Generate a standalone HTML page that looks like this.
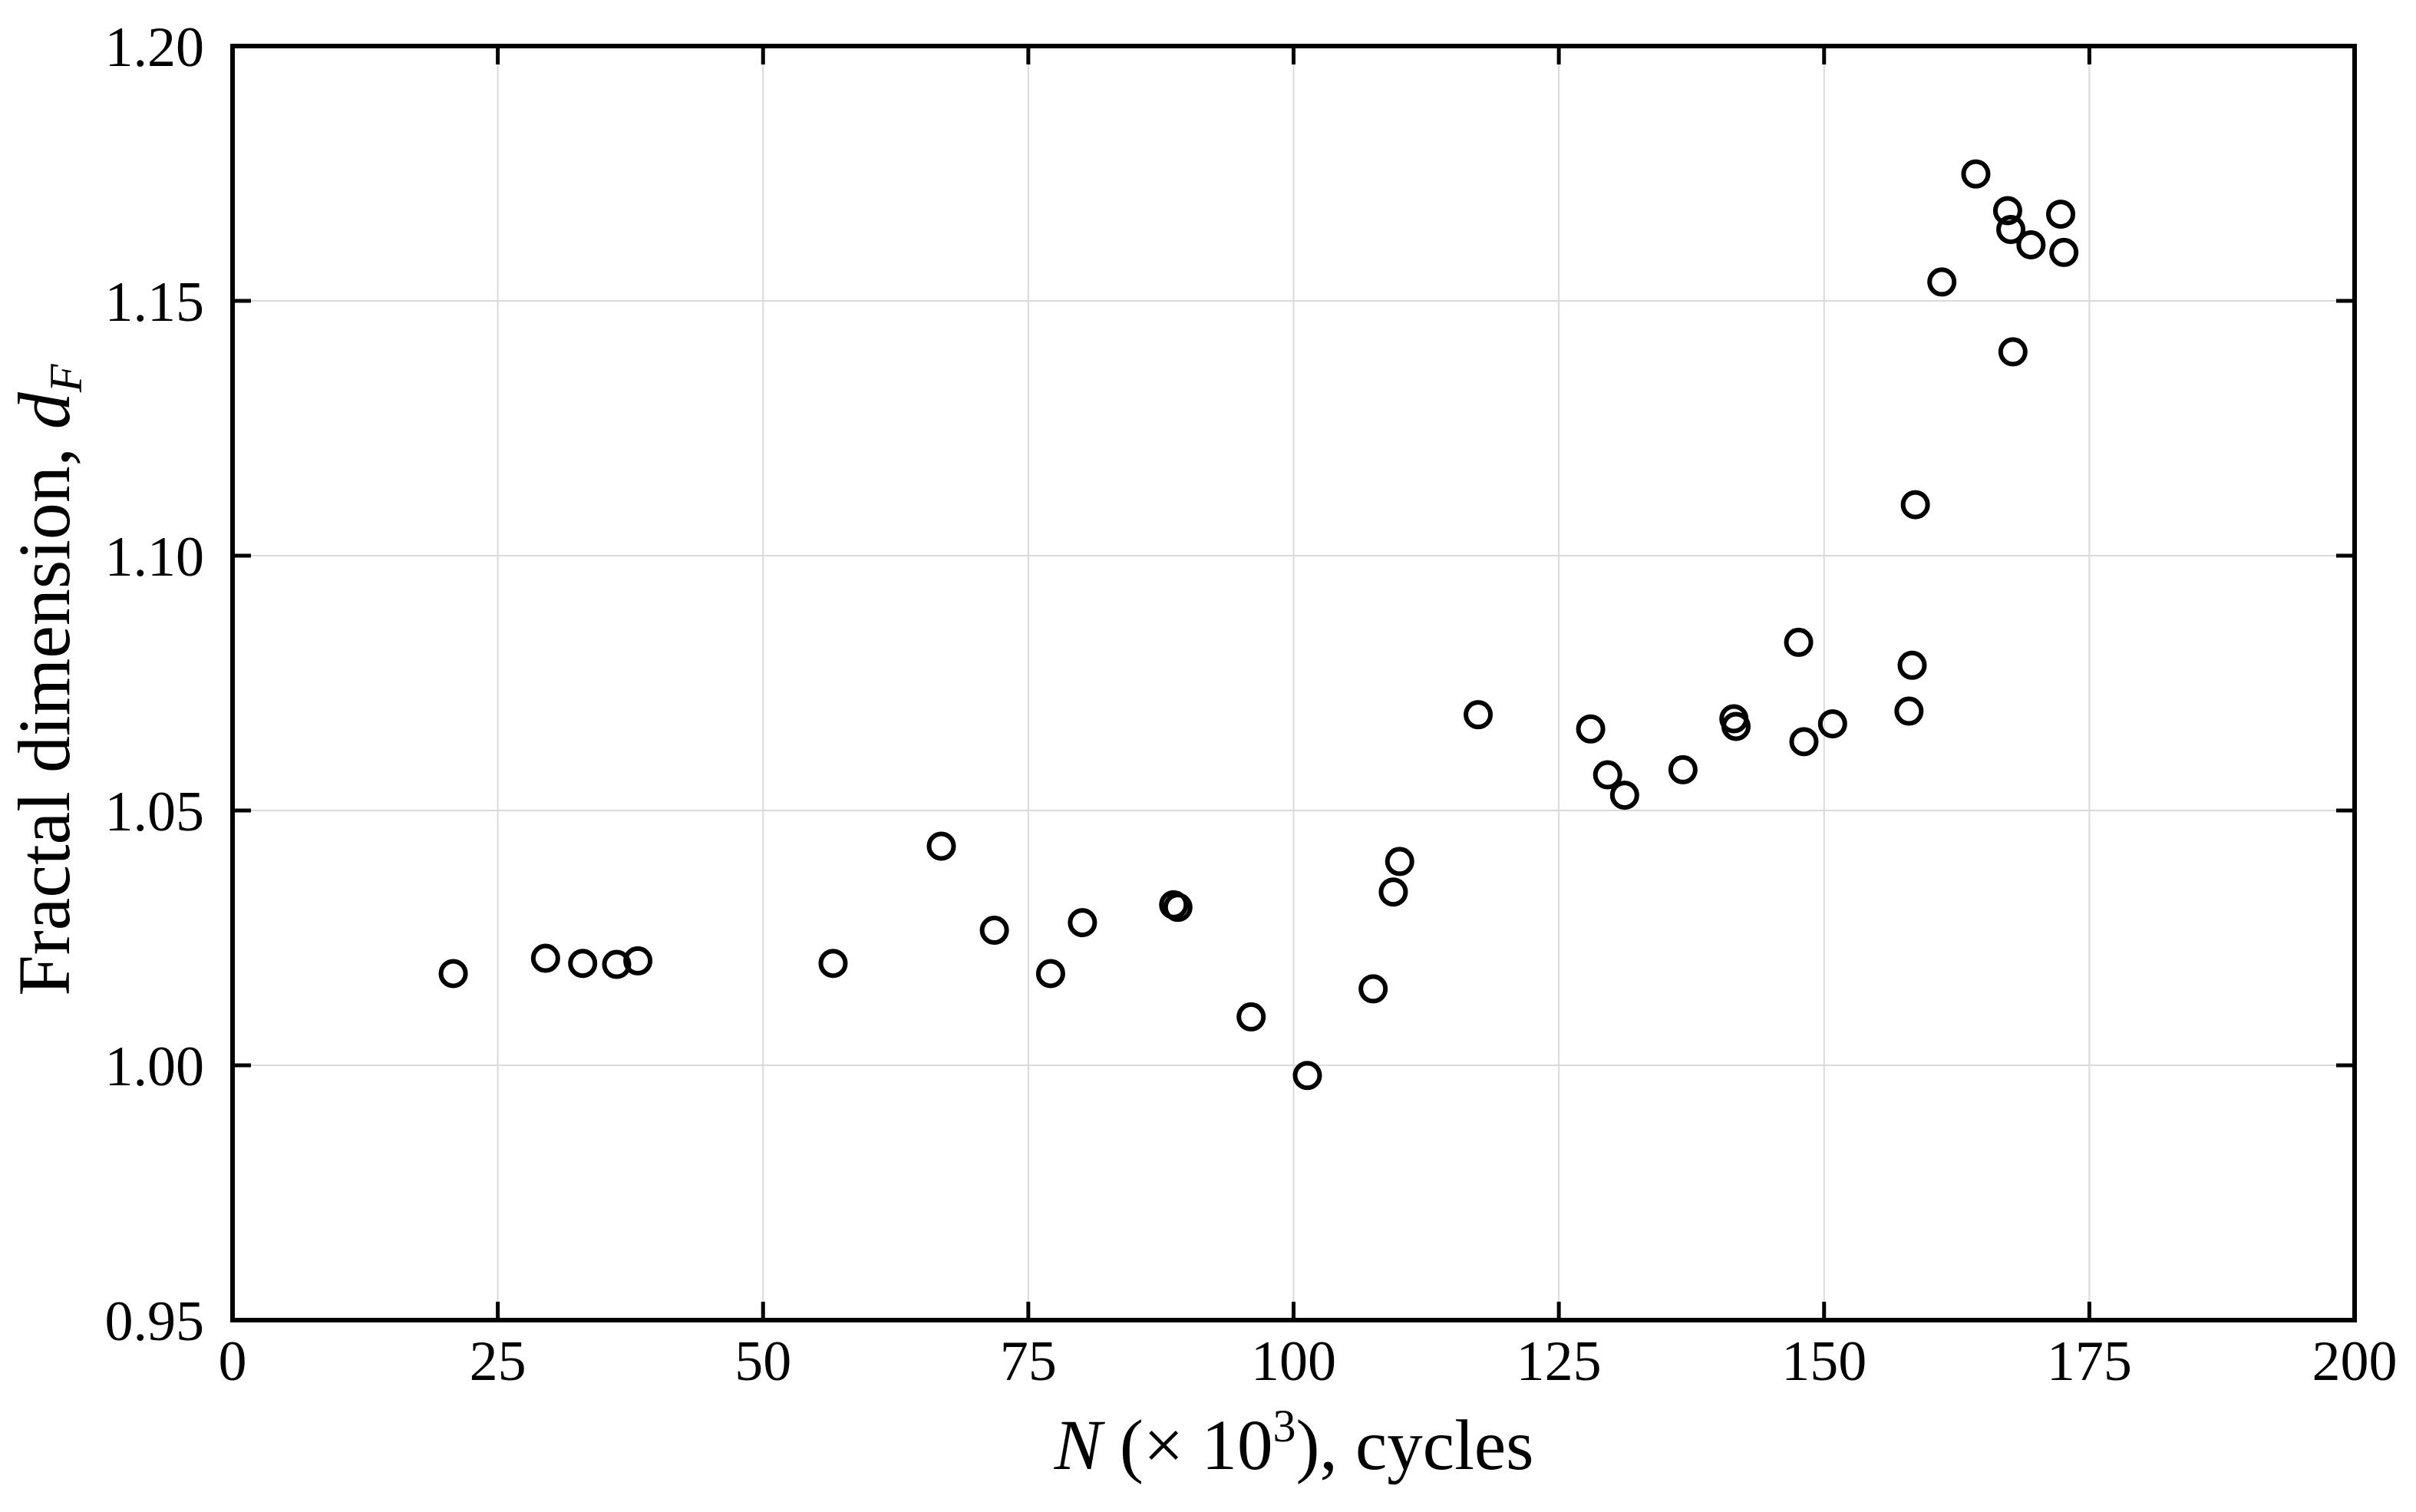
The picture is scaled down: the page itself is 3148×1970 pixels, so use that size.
<!DOCTYPE html>
<html><head><meta charset="utf-8"><style>
html,body{margin:0;padding:0;background:#fff;}
svg{display:block;font-family:"Liberation Serif",serif;}
</style></head><body>
<svg id="chart" width="3148" height="1970" viewBox="0 0 3148 1970" xmlns="http://www.w3.org/2000/svg">
<g id="grid"></g>
<g id="ticks"></g>
<g id="pts"></g>
<rect x="303" y="60" width="2765" height="1660" fill="none" stroke="#000" stroke-width="6"/>
<text x="1686" y="1914" font-size="93" text-anchor="middle"><tspan font-style="italic">N</tspan> (× 10<tspan font-size="60" dy="-36">3</tspan><tspan dy="36">), cycles</tspan></text>
<text transform="translate(90,886) rotate(-90)" font-size="96" text-anchor="middle">Fractal dimension, <tspan font-style="italic">d</tspan><tspan font-style="italic" font-size="60" dy="16">F</tspan></text>
</svg>
<script>
const xTicks=[0,25,50,75,100,125,150,175,200];
const yTicks=[0.95,1.00,1.05,1.10,1.15,1.20];
const yTickLabels=["0.95","1.00","1.05","1.10","1.15","1.20"];
const cycles=[20.8,29.5,33,36.2,38.2,56.6,66.8,71.8,77.1,80.1,88.7,89.1,96,101.3,107.5,109.4,110,117.4,128,129.6,131.2,136.7,141.5,141.7,147.6,148.1,150.8,158,158.3,158.6,161.1,164.3,167.3,167.6,167.8,169.5,172.3,172.6];
const fractalDim=[1.018,1.021,1.020,1.0198,1.0205,1.020,1.043,1.0265,1.018,1.028,1.0315,1.031,1.0095,0.998,1.015,1.034,1.040,1.0688,1.066,1.057,1.053,1.058,1.068,1.0665,1.083,1.0635,1.067,1.0695,1.0785,1.110,1.1537,1.1749,1.1677,1.164,1.140,1.161,1.167,1.1595];
const L=303,R=3068,T=60,B=1720;
function xs(v){return L+(v-0)/(200-0)*(R-L);}
function ys(v){return B-(v-0.95)/(1.20-0.95)*(B-T);}
const NS="http://www.w3.org/2000/svg";
function mk(t,a){const e=document.createElementNS(NS,t);for(const k in a)e.setAttribute(k,a[k]);return e;}
const grid=document.getElementById('grid'),ticks=document.getElementById('ticks'),pts=document.getElementById('pts');
xTicks.forEach(v=>{const x=xs(v);
 if(v>0&&v<200){const g=mk('line',{x1:x,x2:x,y1:T,y2:B,stroke:'#d9d9d9','stroke-width':2});
 
 grid.appendChild(g);
 [[B,B-24],[T,T+24]].forEach(p=>{const t=mk('line',{x1:x,x2:x,y1:p[0],y2:p[1],stroke:'#000','stroke-width':5});
 
 ticks.appendChild(t);});}
 const l=mk('text',{x:x,y:1798,'font-size':74,'text-anchor':'middle'});l.textContent=String(v);
 
 ticks.appendChild(l);});
yTicks.forEach((v,i)=>{const y=ys(v);
 if(i>0&&i<yTicks.length-1){const g=mk('line',{x1:L,x2:R,y1:y,y2:y,stroke:'#d9d9d9','stroke-width':2});
 
 grid.appendChild(g);
 [[L,L+24],[R,R-24]].forEach(p=>{const t=mk('line',{x1:p[0],x2:p[1],y1:y,y2:y,stroke:'#000','stroke-width':5});
 
 ticks.appendChild(t);});}
 const l=mk('text',{x:266,y:y+26,'font-size':74,'text-anchor':'end'});l.textContent=yTickLabels[i];
 
 ticks.appendChild(l);});
cycles.forEach((c,i)=>{const p=mk('circle',{cx:xs(c),cy:ys(fractalDim[i]),r:16,fill:'none',stroke:'#000','stroke-width':6});
 
 pts.appendChild(p);});
</script>
</body></html>
